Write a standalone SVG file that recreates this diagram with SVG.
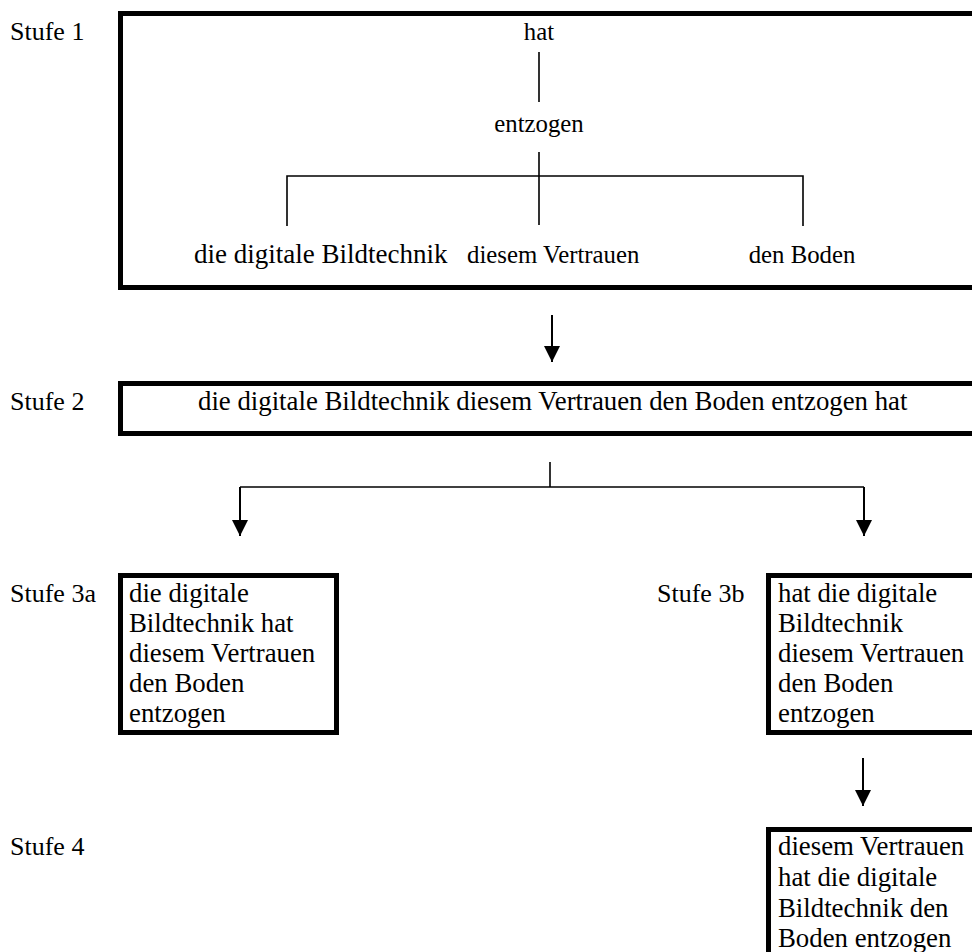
<svg xmlns="http://www.w3.org/2000/svg" width="972" height="952" viewBox="0 0 972 952">
  <style>
    text { font-family: "Liberation Serif", "Times New Roman", serif; font-size: 26.8px; fill: #000; }
    .lbl { font-size: 26px; }
    .tr { font-size: 24.8px; }
    .mid { text-anchor: middle; }
    .box { fill: #fff; stroke: #000; stroke-width: 5; }
    .tree { fill: none; stroke: #000; stroke-width: 1.6; }
    .flow { fill: none; stroke: #000; stroke-width: 2; }
  </style>
  <defs>
    <marker id="head" viewBox="0 0 16 16" refX="16" refY="8" markerWidth="16" markerHeight="16" markerUnits="userSpaceOnUse" orient="auto">
      <path d="M0,0 L16,8 L0,16 Z" fill="#000"/>
    </marker>
  </defs>
  <rect width="972" height="952" fill="#fff"/>

  <!-- stage labels -->
  <g id="labels">
    <text class="lbl" x="10" y="40">Stufe 1</text>
    <text class="lbl" x="10" y="410">Stufe 2</text>
    <text class="lbl" x="10" y="602">Stufe 3a</text>
    <text class="lbl" x="657" y="602">Stufe 3b</text>
    <text class="lbl" x="10" y="855">Stufe 4</text>
  </g>

  <!-- stage 1: dependency tree -->
  <g id="stufe1">
    <rect class="box" x="120.5" y="13.5" width="870" height="274"/>
    <text class="tr mid" x="539" y="40">hat</text>
    <text class="tr mid" x="539" y="132">entzogen</text>
    <text x="194" y="263" style="font-size:27px">die digitale Bildtechnik</text>
    <text class="tr" x="467" y="263">diesem Vertrauen</text>
    <text class="tr mid" x="802" y="263">den Boden</text>
    <path class="tree" d="M539,52 V102 M539,152 V225 M287,226 V176 H803 V226"/>
  </g>

  <!-- stage 2 -->
  <g id="stufe2">
    <rect class="box" x="120.5" y="383.5" width="870" height="50"/>
    <text x="198" y="410">die digitale Bildtechnik diesem Vertrauen den Boden entzogen hat</text>
  </g>

  <!-- stage 3a -->
  <g id="stufe3a">
    <rect class="box" x="120.5" y="575.5" width="216" height="157"/>
    <text x="129" y="602">die digitale</text>
    <text x="129" y="632">Bildtechnik hat</text>
    <text x="129" y="662">diesem Vertrauen</text>
    <text x="129" y="692">den Boden</text>
    <text x="129" y="722">entzogen</text>
  </g>

  <!-- stage 3b -->
  <g id="stufe3b">
    <rect class="box" x="768.5" y="575.5" width="220" height="157"/>
    <text x="778" y="602">hat die digitale</text>
    <text x="778" y="632">Bildtechnik</text>
    <text x="778" y="662">diesem Vertrauen</text>
    <text x="778" y="692">den Boden</text>
    <text x="778" y="722">entzogen</text>
  </g>

  <!-- stage 4 -->
  <g id="stufe4">
    <rect class="box" x="768.5" y="829.5" width="220" height="140"/>
    <text x="778" y="855">diesem Vertrauen</text>
    <text x="778" y="886">hat die digitale</text>
    <text x="778" y="917">Bildtechnik den</text>
    <text x="778" y="947">Boden entzogen</text>
  </g>

  <!-- connectors between stages -->
  <g id="connectors">
    <path class="flow" d="M552,315 V362" marker-end="url(#head)"/>
    <path class="tree" d="M550,462 V487"/>
    <path class="tree" d="M240,487 H864"/>
    <path class="flow" d="M240,487 V536" marker-end="url(#head)"/>
    <path class="flow" d="M864,487 V536" marker-end="url(#head)"/>
    <path class="flow" d="M863,758 V806" marker-end="url(#head)"/>
  </g>
</svg>
